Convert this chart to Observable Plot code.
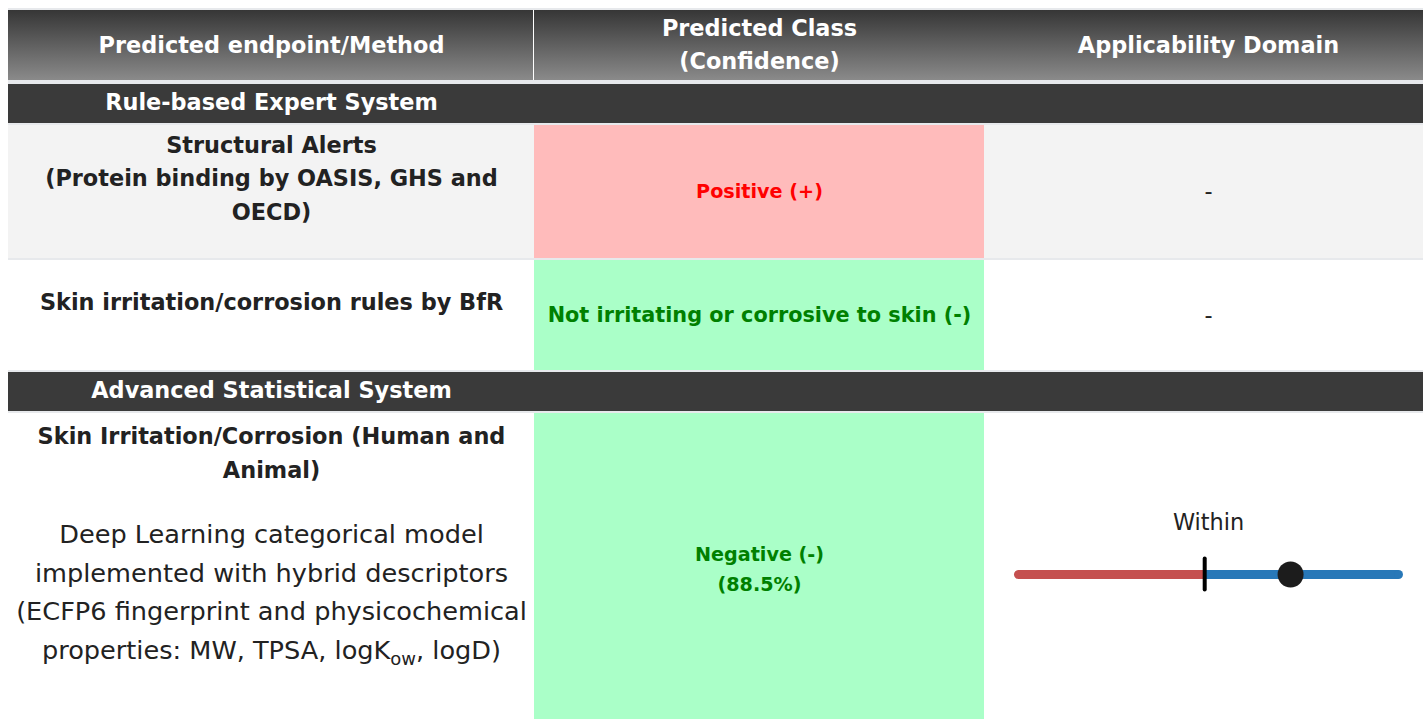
<!DOCTYPE html>
<html><head><meta charset="utf-8">
<script src="https://cdn.jsdelivr.net/npm/d3@7"></script>
<script src="https://cdn.jsdelivr.net/npm/@observablehq/plot@0.6"></script>
<style>html,body{margin:0;padding:0;background:#fff;overflow:hidden}</style>
</head><body><div id="chart"></div>
<script>
// ---------------- data ----------------
const headerLabels = ["Predicted endpoint/Method", "Predicted Class\n(Confidence)", "Applicability Domain"];
const sectionNames = ["Rule-based Expert System", "Advanced Statistical System"];
const rowSection = [0, 0, 1];
const endpointNames = [
  "Structural Alerts\n(Protein binding by OASIS, GHS and\nOECD)",
  "Skin irritation/corrosion rules by BfR",
  "Skin Irritation/Corrosion (Human and\nAnimal)"
];
const methodNotes = [null, null,
  "Deep Learning categorical model\nimplemented with hybrid descriptors\n(ECFP6 fingerprint and physicochemical\nproperties: MW, TPSA, logK_ow, logD)"];
const predictedClasses = ["Positive (+)", "Not irritating or corrosive to skin (-)", "Negative (-)"];
const predictedSigns = ["+", "-", "-"];
const confidences = [null, null, 88.5];
const adLabels = ["-", "-", "Within"];
const adScores = [null, null, 0.716];
const adThreshold = 0.49;
const adRange = [0, 1];

// ---------------- layout / style ----------------
const W = 1423, H = 719;
const colEdges = [8, 534, 984, 1432];
const colCenter = i => (colEdges[i] + colEdges[i + 1]) / 2;
const tableTop = 8, topBorder = 2, headerH = 70, headerGap = 4, bandH = 39, gap = 2;
const rowHeights = [133, 110, 312];
const rowFills = ["#f3f3f3", "#ffffff", "#ffffff"];
const signFill = {"+": "#ffbbbb", "-": "#aaffc8"};
const signText = {"+": "#ff0000", "-": "#008000"};
const gridColor = "#e7e9ec";
const darkBand = "#3a3a3a";
const textDark = "#222222";
const boldSize = 22.4, regSize = 25.6;
const predSizes = [19.2, 20.8, 19.2];
const sliderHalf = 190, sliderDy = 5, adLabelDy = -47;
const sliderColors = ["#c5504f", "#2878b8"];

let y = tableTop + topBorder;
const header = {y1: y, y2: y + headerH};
y += headerH + headerGap;
const bands = [], rows = [];
let prev = -1;
rowHeights.forEach((h, i) => {
  if (rowSection[i] !== prev) {
    bands.push({name: sectionNames[rowSection[i]], y1: y, y2: y + bandH});
    y += bandH + gap; prev = rowSection[i];
  }
  rows.push({i, y1: y, y2: y + h, cy: y + h / 2});
  y += h + gap;
});
const tableBottom = y;

// cells
const cells = [];
cells.push({x1: colEdges[0], x2: colEdges[3], y1: tableTop, y2: tableBottom, fill: gridColor});
cells.push({x1: colEdges[0], x2: colEdges[3], y1: header.y1, y2: header.y2, fill: "url(#hdrGrad)"});
bands.forEach(b => cells.push({x1: colEdges[0], x2: colEdges[3], y1: b.y1, y2: b.y2, fill: darkBand}));
rows.forEach(r => {
  cells.push({x1: colEdges[0], x2: colEdges[3], y1: r.y1, y2: r.y2, fill: rowFills[r.i]});
  cells.push({x1: colEdges[1], x2: colEdges[2], y1: r.y1, y2: r.y2, fill: signFill[predictedSigns[r.i]]});
});

// texts
const headerTexts = headerLabels.map((t, i) => ({x: colCenter(i), y: (header.y1 + header.y2) / 2 - 3.5, text: t}));
const bandTexts = bands.map(b => ({x: colCenter(0), y: (b.y1 + b.y2) / 2 - 1.5, text: b.name}));
const endpointTexts = rows.map(r => ({
  x: colCenter(0),
  y: methodNotes[r.i] ? r.y1 + 36.5 : r.cy - 16.5,
  text: endpointNames[r.i]
}));
const noteTexts = rows.filter(r => methodNotes[r.i]).map(r => ({x: colCenter(0), y: r.y1 + 175, text: methodNotes[r.i]}));
const predTexts = rows.map(r => ({
  x: colCenter(1), y: r.cy - 3.5,
  text: predictedClasses[r.i] + (confidences[r.i] != null ? `\n(${confidences[r.i]}%)` : ""),
  fill: signText[predictedSigns[r.i]],
  size: predSizes[r.i]
}));
const adTexts = rows.map(r => ({
  x: colCenter(2), y: adScores[r.i] != null ? r.cy + adLabelDy : r.cy,
  text: adLabels[r.i]
}));

// slider
const sliders = rows.filter(r => adScores[r.i] != null).map(r => {
  const sx = d3.scaleLinear(adRange, [colCenter(2) - sliderHalf, colCenter(2) + sliderHalf]);
  return {sy: r.cy + sliderDy, xMin: sx(adRange[0]), xThr: sx(adThreshold), xMax: sx(adRange[1]), xVal: sx(adScores[r.i])};
});

const predMarks = predSizes.map((s, i) =>
  Plot.text(predTexts.filter((d, j) => j === i), {x: "x", y: "y", text: "text", fill: d => d.fill, fontWeight: "bold", fontSize: s, lineHeight: 1.56, lineAnchor: "middle"}));

const chart = Plot.plot({
  width: W, height: H,
  margin: 0,
  x: {type: "linear", domain: [0, W], range: [0, W], axis: null},
  y: {type: "linear", domain: [0, H], range: [0, H], axis: null},
  style: {fontFamily: "'DejaVu Sans', sans-serif", background: "white", overflow: "hidden"},
  marks: [
    Plot.rect(cells, {x1: "x1", x2: "x2", y1: "y1", y2: "y2", fill: d => d.fill}),
    Plot.ruleX([colEdges[1] - 1], {x: d => d, y1: header.y1, y2: header.y2, stroke: "white", strokeWidth: 1}),
    Plot.text(headerTexts, {x: "x", y: "y", text: "text", fill: "white", fontWeight: "bold", fontSize: boldSize, lineHeight: 1.47, lineAnchor: "middle"}),
    Plot.text(bandTexts, {x: "x", y: "y", text: "text", fill: "white", fontWeight: "bold", fontSize: boldSize, lineAnchor: "middle"}),
    Plot.text(endpointTexts, {x: "x", y: "y", text: "text", fill: textDark, fontWeight: "bold", fontSize: boldSize, lineHeight: 1.5, lineAnchor: "middle"}),
    Plot.text(noteTexts, {x: "x", y: "y", text: "text", fill: textDark, fontSize: regSize, lineHeight: 1.51, lineAnchor: "middle"}),
    ...predMarks,
    Plot.text(adTexts, {x: "x", y: "y", text: "text", fill: textDark, fontSize: boldSize, lineAnchor: "middle"}),
    Plot.link(sliders, {x1: "xMin", x2: "xThr", y1: "sy", y2: "sy", stroke: sliderColors[0], strokeWidth: 9, strokeLinecap: "round"}),
    Plot.link(sliders, {x1: "xThr", x2: "xMax", y1: "sy", y2: "sy", stroke: sliderColors[1], strokeWidth: 9, strokeLinecap: "butt"}),
    Plot.dot(sliders, {x: "xMax", y: "sy", r: 4.5, fill: sliderColors[1]}),
    Plot.ruleX(sliders, {x: "xThr", y1: d => d.sy - 15.5, y2: d => d.sy + 15.5, stroke: "black", strokeWidth: 4, strokeLinecap: "round"}),
    Plot.dot(sliders, {x: "xVal", y: "sy", r: 13, fill: "#1c1c1c"})
  ]
});

// gradient defs for header
const ns = "http://www.w3.org/2000/svg";
const defs = document.createElementNS(ns, "defs");
const grad = document.createElementNS(ns, "linearGradient");
grad.setAttribute("id", "hdrGrad");
grad.setAttribute("x1", "0"); grad.setAttribute("y1", "0"); grad.setAttribute("x2", "0"); grad.setAttribute("y2", "1");
[["0%", "#363636"], ["100%", "#8a8a8a"]].forEach(([o, c]) => {
  const s = document.createElementNS(ns, "stop");
  s.setAttribute("offset", o); s.setAttribute("stop-color", c);
  grad.appendChild(s);
});
defs.appendChild(grad);
chart.insertBefore(defs, chart.firstChild);

// subscript for logK_ow
chart.querySelectorAll("tspan, text").forEach(el => {
  if (el.childElementCount === 0 && el.textContent.includes("logK_ow")) {
    const [pre, post] = el.textContent.split("K_ow");
    el.textContent = "";
    el.appendChild(document.createTextNode(pre + "K"));
    const sub = document.createElementNS(ns, "tspan");
    sub.setAttribute("dy", "6"); sub.setAttribute("font-size", "18");
    sub.textContent = "ow";
    el.appendChild(sub);
    const rest = document.createElementNS(ns, "tspan");
    rest.setAttribute("dy", "-6");
    rest.textContent = post;
    el.appendChild(rest);
  }
});

document.getElementById("chart").appendChild(chart);
</script></body></html>
